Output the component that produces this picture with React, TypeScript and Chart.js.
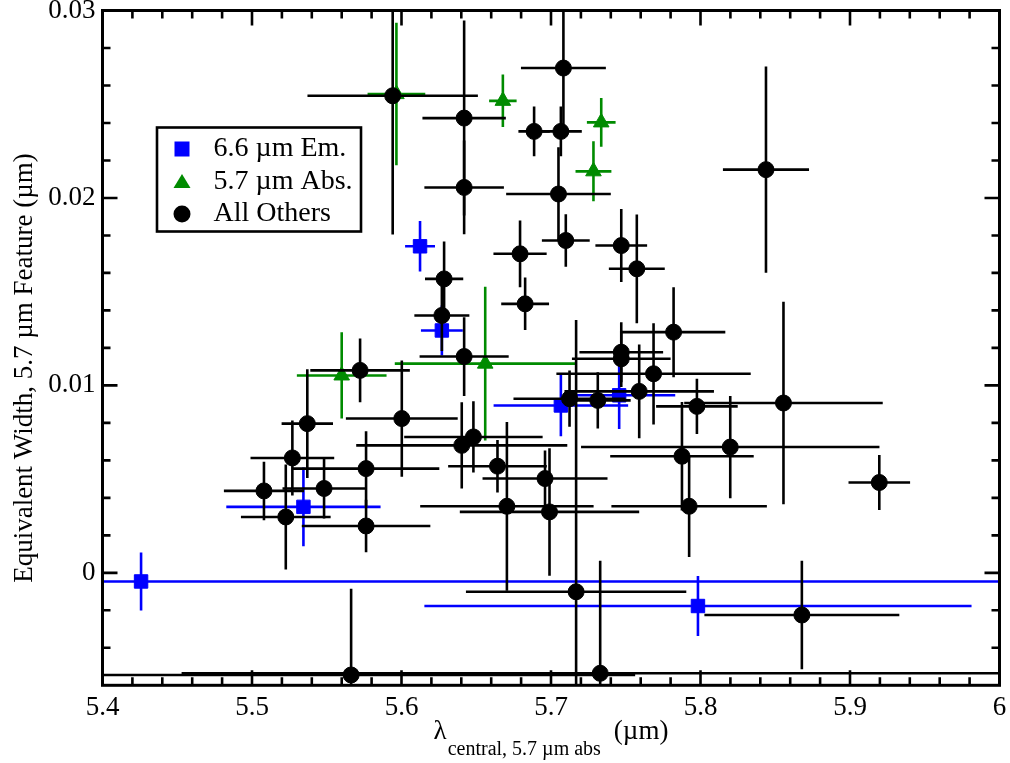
import React, { useEffect, useRef } from 'react';
import { Chart, registerables } from 'chart.js';

Chart.register(...registerables);

const FONT = '"Liberation Serif", "Times New Roman", Times, serif';

// ---- Data: "All Others" (black circles) ----
const othersX = [5.5941, 5.6419, 5.6419, 5.6887, 5.7083, 5.7066, 5.705, 5.7099, 5.8438, 5.747, 5.7574, 5.6793, 5.6827, 5.6285, 5.627, 5.782, 5.747, 5.747, 5.7686, 5.759, 5.7124, 5.7313, 5.7976, 5.8555, 5.8199, 5.7876, 5.9196, 5.7924, 5.696, 5.699, 5.7168, 5.7329, 5.8678, 5.5663, 5.508, 5.527, 5.5226, 5.537, 5.5482, 5.5763, 5.5763, 5.5723, 5.6002, 5.6419, 5.6403, 5.6481, 5.6642, 5.6705];
const othersY = [0.02545, 0.02426, 0.02056, 0.02355, 0.02693, 0.02355, 0.02021, 0.01773, 0.02151, 0.01746, 0.01622, 0.01702, 0.01435, 0.01568, 0.01373, 0.01284, 0.01177, 0.01142, 0.01062, 0.00968, 0.00929, 0.0092, 0.00888, 0.00906, 0.00671, 0.00622, 0.00482, 0.00355, 0.00503, 0.00325, -0.00101, -0.00536, -0.00225, -0.00545, 0.00437, 0.00613, 0.00298, 0.00796, 0.0045, 0.00556, 0.0025, 0.0108, 0.00823, 0.01154, 0.0068, 0.00725, 0.00569, 0.00355];
const othersXErr = [0.057, 0.0279, 0.0266, 0.0105, 0.0284, 0.014, 0.035, 0.016, 0.0288, 0.0173, 0.0187, 0.0178, 0.016, 0.0128, 0.0184, 0.0346, 0.028, 0.033, 0.065, 0.05, 0.0375, 0.022, 0.0273, 0.0664, 0.0998, 0.048, 0.0206, 0.052, 0.0418, 0.06, 0.0737, 0.28, 0.0652, 0.19, 0.0268, 0.028, 0.03, 0.0172, 0.0278, 0.049, 0.043, 0.0333, 0.0374, 0.0298, 0.0706, 0.0463, 0.033, 0.058];
const othersYErr = [0.0074, 0.0052, 0.0025, 0.00133, 0.003, 0.00133, 0.0025, 0.0014, 0.0055, 0.00195, 0.0029, 0.00178, 0.0014, 0.002, 0.0019, 0.0024, 0.0016, 0.0015, 0.0027, 0.0025, 0.0015, 0.0015, 0.00147, 0.0054, 0.00273, 0.0029, 0.00147, 0.0027, 0.0015, 0.0034, 0.0145, 0.006, 0.0029, 0.0046, 0.00156, 0.002, 0.0028, 0.0029, 0.0016, 0.002, 0.0014, 0.0017, 0.0031, 0.0021, 0.0023, 0.0019, 0.0014, 0.0045];

// ---- Data: 6.6 um emission (blue squares) ----
const emX = [5.4258, 5.5344, 5.6124, 5.627, 5.7066, 5.7456, 5.7983];
const emY = [-0.00046, 0.00352, 0.01742, 0.01293, 0.00893, 0.00947, -0.00177];
const emXErr = [0.6, 0.0516, 0.01, 0.014, 0.045, 0.0375, 0.183];
const emYErr = [0.00155, 0.0021, 0.00135, 0.00133, 0.00165, 0.0018, 0.0016];

// ---- Data: 5.7 um absorption (green triangles) ----
const absX = [5.5966, 5.6678, 5.7336, 5.7284, 5.56, 5.656];
const absY = [0.02554, 0.02518, 0.02403, 0.02142, 0.01053, 0.01116];
const absXErr = [0.0193, 0.0092, 0.0096, 0.012, 0.03, 0.0605];
const absYErr = [0.0038, 0.0014, 0.0013, 0.0016, 0.0023, 0.0041];

// ---- Axes ----
const xTicks = [5.4, 5.5, 5.6, 5.7, 5.8, 5.9, 6.0];
const xTickLabels = ['5.4', '5.5', '5.6', '5.7', '5.8', '5.9', '6'];
const yTicks = [0, 0.01, 0.02, 0.03];
const yTickLabels = ['0', '0.01', '0.02', '0.03'];
const xMin = 5.4;
const xMax = 6.0;
const yMin = -0.006;
const yMax = 0.03;
const xMinorStep = 0.02;
const yMinorStep = 0.002;

const seriesLabels = ['6.6 \u00b5m Em.', '5.7 \u00b5m Abs.', 'All Others'];
const BLUE = '#0000ff';
const GREEN = '#008b00';
const BLACK = '#000000';

export default function App() {
  const ref = useRef<HTMLCanvasElement | null>(null);

  useEffect(() => {
    document.body.style.margin = '0';
    const canvas = ref.current;
    if (!canvas) return;
    const toPts = (xs: number[], ys: number[]) => xs.map((x, i) => ({ x, y: ys[i] }));

    const errSets = [
      { xe: emXErr, ye: emYErr, color: BLUE },
      { xe: absXErr, ye: absYErr, color: GREEN },
      { xe: othersXErr, ye: othersYErr, color: BLACK },
    ];

    const errorBars = {
      id: 'errorBars',
      beforeDatasetDraw(chart: any, args: any) {
        const idx = args.index;
        const set = errSets[idx];
        const ds = chart.data.datasets[idx];
        const xs = chart.scales.x;
        const ys = chart.scales.y;
        const ca = chart.chartArea;
        const ctx = chart.ctx;
        ctx.save();
        ctx.beginPath();
        ctx.rect(ca.left, ca.top, ca.right - ca.left, ca.bottom - ca.top);
        ctx.clip();
        ctx.strokeStyle = set.color;
        ctx.lineWidth = 2.6;
        ctx.lineCap = 'butt';
        ds.data.forEach((p: any, i: number) => {
          const px = xs.getPixelForValue(p.x);
          const py = ys.getPixelForValue(p.y);
          const x1 = xs.getPixelForValue(p.x - set.xe[i]);
          const x2 = xs.getPixelForValue(p.x + set.xe[i]);
          const y1 = ys.getPixelForValue(p.y - set.ye[i]);
          const y2 = ys.getPixelForValue(p.y + set.ye[i]);
          ctx.beginPath();
          ctx.moveTo(x1, py);
          ctx.lineTo(x2, py);
          ctx.moveTo(px, y1);
          ctx.lineTo(px, y2);
          ctx.stroke();
        });
        ctx.restore();
      },
    };

    const frameAndLegend = {
      id: 'frameAndLegend',
      afterDraw(chart: any) {
        const ctx = chart.ctx;
        const ca = chart.chartArea;
        const xs = chart.scales.x;
        const ys = chart.scales.y;
        ctx.save();
        ctx.strokeStyle = '#000';
        ctx.lineWidth = 2.6;
        ctx.beginPath();
        // x ticks (major + minor), inward on bottom and top
        for (let k = 0; k < xTicks.length; k++) {
          const v = xTicks[k];
          const px = xs.getPixelForValue(v);
          ctx.moveTo(px, ca.bottom); ctx.lineTo(px, ca.bottom - 15);
          ctx.moveTo(px, ca.top); ctx.lineTo(px, ca.top + 15);
          if (k < xTicks.length - 1) {
            for (let m = 1; m < 5; m++) {
              const mp = xs.getPixelForValue(v + m * xMinorStep);
              ctx.moveTo(mp, ca.bottom); ctx.lineTo(mp, ca.bottom - 8);
              ctx.moveTo(mp, ca.top); ctx.lineTo(mp, ca.top + 8);
            }
          }
        }
        // y ticks
        for (let m = 1; m < 3; m++) {
          const mp = ys.getPixelForValue(yTicks[0] - m * yMinorStep);
          ctx.moveTo(ca.left, mp); ctx.lineTo(ca.left + 8, mp);
          ctx.moveTo(ca.right, mp); ctx.lineTo(ca.right - 8, mp);
        }
        for (let k = 0; k < yTicks.length; k++) {
          const v = yTicks[k];
          const py = ys.getPixelForValue(v);
          ctx.moveTo(ca.left, py); ctx.lineTo(ca.left + 15, py);
          ctx.moveTo(ca.right, py); ctx.lineTo(ca.right - 15, py);
          if (k < yTicks.length - 1) {
            for (let m = 1; m < 5; m++) {
              const mp = ys.getPixelForValue(v + m * yMinorStep);
              ctx.moveTo(ca.left, mp); ctx.lineTo(ca.left + 8, mp);
              ctx.moveTo(ca.right, mp); ctx.lineTo(ca.right - 8, mp);
            }
          }
        }
        ctx.stroke();
        ctx.lineWidth = 3;
        ctx.strokeRect(ca.left, ca.top, ca.right - ca.left, ca.bottom - ca.top);

        // Axis titles
        ctx.fillStyle = '#000';
        const cx = (ca.left + ca.right) / 2;
        ctx.font = `27px ${FONT}`;
        const wL = ctx.measureText('\u03bb').width;
        const wU = ctx.measureText('(\u00b5m)').width;
        ctx.font = `20px ${FONT}`;
        const sub = 'central, 5.7 \u00b5m abs';
        const wS = ctx.measureText(sub).width;
        const gap = 13;
        const total = wL + 1 + wS + gap + wU;
        let sx = cx - total / 2;
        ctx.textAlign = 'left';
        ctx.textBaseline = 'alphabetic';
        ctx.font = `27px ${FONT}`;
        ctx.fillText('\u03bb', sx, 739);
        sx += wL + 1;
        ctx.font = `20px ${FONT}`;
        ctx.fillText(sub, sx, 755);
        sx += wS + gap;
        ctx.font = `27px ${FONT}`;
        ctx.fillText('(\u00b5m)', sx, 739);

        ctx.save();
        ctx.translate(31.5, 368);
        ctx.rotate(-Math.PI / 2);
        ctx.textAlign = 'center';
        ctx.textBaseline = 'alphabetic';
        ctx.font = `27px ${FONT}`;
        ctx.fillText('Equivalent Width, 5.7 \u00b5m Feature (\u00b5m)', 0, 0);
        ctx.restore();

        // Legend box
        const lx = ca.left + 54.5;
        const ly = ca.top + 117;
        const lw = 204;
        const lh = 104;
        ctx.fillStyle = '#fff';
        ctx.fillRect(lx, ly, lw, lh);
        ctx.lineWidth = 2.6;
        ctx.strokeStyle = '#000';
        ctx.strokeRect(lx, ly, lw, lh);
        const rows = [ly + 21.5, ly + 54.5, ly + 86.5];
        const mx = lx + 25;
        // square
        ctx.fillStyle = BLUE;
        ctx.fillRect(mx - 7.5, rows[0] - 7.5, 15, 15);
        // triangle
        ctx.fillStyle = GREEN;
        ctx.beginPath();
        ctx.moveTo(mx, rows[1] - 8);
        ctx.lineTo(mx + 8.5, rows[1] + 6);
        ctx.lineTo(mx - 8.5, rows[1] + 6);
        ctx.closePath();
        ctx.fill();
        // circle
        ctx.fillStyle = BLACK;
        ctx.beginPath();
        ctx.arc(mx, rows[2], 8.5, 0, Math.PI * 2);
        ctx.fill();
        ctx.fillStyle = '#000';
        ctx.font = `28px ${FONT}`;
        ctx.textAlign = 'left';
        ctx.textBaseline = 'alphabetic';
        seriesLabels.forEach((t, i) => ctx.fillText(t, lx + 56.5, rows[i] + 7));
        ctx.restore();
      },
    };

    const tickFont = { family: FONT, size: 27 };

    const chart = new Chart(canvas, {
      type: 'scatter',
      data: {
        datasets: [
          {
            label: seriesLabels[0],
            data: toPts(emX, emY),
            pointStyle: 'rect',
            pointRadius: 9.5,
            backgroundColor: BLUE,
            borderColor: BLUE,
            borderWidth: 1,
            order: 3,
          },
          {
            label: seriesLabels[1],
            data: toPts(absX, absY),
            pointStyle: 'triangle',
            pointRadius: 9,
            backgroundColor: GREEN,
            borderColor: GREEN,
            borderWidth: 1,
            order: 2,
          },
          {
            label: seriesLabels[2],
            data: toPts(othersX, othersY),
            pointStyle: 'circle',
            pointRadius: 8,
            backgroundColor: BLACK,
            borderColor: BLACK,
            borderWidth: 1,
            order: 1,
          },
        ],
      },
      options: {
        responsive: false,
        animation: false,
        devicePixelRatio: 1,
        events: [],
        layout: { padding: { top: 9.6, right: 10.5, left: 0, bottom: 0 } },
        plugins: { legend: { display: false }, tooltip: { enabled: false } },
        scales: {
          x: {
            type: 'linear',
            min: xMin,
            max: xMax,
            grid: { display: false, drawTicks: false },
            border: { display: false },
            afterBuildTicks: (s: any) => { s.ticks = xTicks.map((v) => ({ value: v })); },
            afterFit: (s: any) => { s.height = 77.7; s.paddingLeft = 0; s.paddingRight = 0; },
            ticks: {
              font: tickFont,
              color: '#000',
              padding: 6,
              maxRotation: 0,
              autoSkip: false,
              callback: (_v: any, i: number) => xTickLabels[i],
            },
          },
          y: {
            type: 'linear',
            min: yMin,
            max: yMax,
            grid: { display: false, drawTicks: false },
            border: { display: false },
            afterBuildTicks: (s: any) => { s.ticks = yTicks.map((v) => ({ value: v })); },
            afterFit: (s: any) => { s.width = 102.5; s.paddingTop = 0; s.paddingBottom = 0; },
            ticks: {
              font: tickFont,
              color: '#000',
              padding: 7,
              autoSkip: false,
              callback: (_v: any, i: number) => yTickLabels[i],
            },
          },
        },
      },
      plugins: [errorBars, frameAndLegend],
    } as any);

    return () => chart.destroy();
  }, []);

  return (
    <div style={{ position: 'absolute', left: 0, top: 0, width: 1010, height: 763, background: '#fff' }}>
      <canvas ref={ref} width={1010} height={763} style={{ display: 'block', width: 1010, height: 763 }} />
    </div>
  );
}
